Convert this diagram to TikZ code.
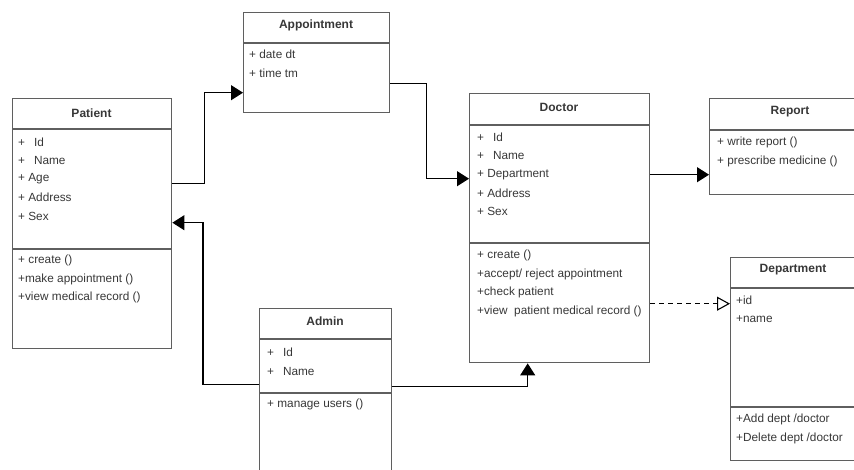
\documentclass[tikz,border=0pt]{standalone}
\usepackage{fontspec}
\setmainfont{Liberation Sans}
\usetikzlibrary{calc,shapes,arrows.meta}
\definecolor{boxline}{RGB}{95,95,95}
\definecolor{txt}{RGB}{55,55,55}

\begin{document}
\begin{tikzpicture}[x=1pt,y=-1pt,
  every node/.style={font=\fontsize{11.8}{13}\selectfont, text=txt},
  classbox/.style={draw=boxline, line width=1.4pt, anchor=north west, inner sep=0pt},
  member/.style={anchor=west, inner sep=0pt},
  classname/.style={inner sep=0pt, font=\fontsize{12}{13}\selectfont\bfseries},
  assoc/.style={line width=1.1pt, -{Triangle[length=12pt,width=15pt]}},
  depend/.style={line width=1.1pt, dash pattern=on 5pt off 4pt, -{Triangle[open,length=13pt,width=14pt]}}]
  \path[use as bounding box, clip] (0,0) rectangle (854,470);

  %% Class boxes
  \node[classbox, minimum width=159pt, minimum height=250pt] (patient) at (12,98)  {};
  \node[classbox, minimum width=146pt, minimum height=100pt] (appoint) at (243,12) {};
  \node[classbox, minimum width=180pt, minimum height=269pt] (doctor)  at (469,93) {};
  \node[classbox, minimum width=170pt, minimum height=96pt]  (report)  at (709,98) {};
  \node[classbox, minimum width=126pt, minimum height=203pt] (dept)    at (730,257) {};
  \node[classbox, minimum width=132pt, minimum height=175pt] (admin)   at (259,308) {};

  %% Header and method separators
  \foreach \b/\h/\w in {patient/31/159, appoint/31/146, doctor/32/180, report/32/170, dept/31/126, admin/31/132}
  {
    \draw[boxline, line width=1.4pt] ($(\b.north west)+(0,\h)$) -- ++(\w,0);
  }
  \foreach \b/\s/\w in {patient/151/159, doctor/150/180, dept/150/126, admin/85/132}
  {
    \draw[boxline, line width=1.4pt] ($(\b.north west)+(0,\s)$) -- ++(\w,0);
  }

  %% Class names
  \node[classname] (patient-t) at (91.5,113)  {Patient};
  \node[classname] (appoint-t) at (316,25)    {Appointment};
  \node[classname] (doctor-t)  at (559,107)   {Doctor};
  \node[classname] (report-t)  at (790,112)   {Report};
  \node[classname] (dept-t)    at (793,270)   {Department};
  \node[classname] (admin-t)   at (325,321)   {Admin};

  %% Members
  \foreach \t [count=\i] in {{+\hspace{9pt}Id},{+\hspace{9pt}Name},{+ Age},{+ Address},{+ Sex}}
    \node[member] (patient-f\i) at (18,{123.5+18.5*\i}) {\t};
  \foreach \t [count=\i] in {{+ create ()},{+make appointment ()},{+view medical record ()}}
    \node[member] (patient-m\i) at (18,{242+18.5*\i}) {\t};

  \foreach \t [count=\i] in {{+ date dt},{+ time tm}}
    \node[member] (appoint-f\i) at (249,{36+18.5*\i}) {\t};

  \foreach \t [count=\i] in {{+\hspace{9pt}Id},{+\hspace{9pt}Name},{+ Department},{+ Address},{+ Sex}}
    \node[member] (doctor-f\i) at (477,{119+18.5*\i}) {\t};
  \foreach \t [count=\i] in {{+ create ()},{+accept/ reject appointment},{+check patient},{+view\ \ patient medical record ()}}
    \node[member] (doctor-m\i) at (477,{237+18.5*\i}) {\t};

  \foreach \t [count=\i] in {{+ write report ()},{+ prescribe medicine ()}}
    \node[member] (report-f\i) at (717,{124+18.5*\i}) {\t};

  \foreach \t [count=\i] in {{+id},{+name}}
    \node[member] (dept-f\i) at (736,{282+18.5*\i}) {\t};
  \foreach \t [count=\i] in {{+Add dept /doctor},{+Delete dept /doctor}}
    \node[member] (dept-m\i) at (736,{401+18.5*\i}) {\t};

  \foreach \t [count=\i] in {{+\hspace{9pt}Id},{+\hspace{9pt}Name}}
    \node[member] (admin-f\i) at (267,{334+18.5*\i}) {\t};
  \node[member] (admin-m1) at (267,404) {+ manage users ()};

  %% Connectors
  \draw[assoc] ([yshift=40pt]patient.east) -- ++(32,0) |- ([yshift=-30pt]appoint.west);
  \draw[assoc] ([yshift=-21pt]appoint.east) -- ++(36,0) |- ([yshift=49.5pt]doctor.west);
  \draw[assoc] ([yshift=53.5pt]doctor.east) -- ([yshift=-28pt]report.west);
  \draw[assoc] ([yshift=11.5pt]admin.west) -- ++(-56,0) |- ([yshift=1pt]patient.east);
  \draw[assoc] ([yshift=9.5pt]admin.east) -| ([xshift=-32pt]doctor.south);
  \draw[depend] ([yshift=-75.5pt]doctor.east) -- ([yshift=55.5pt]dept.west);
\end{tikzpicture}
\end{document}
